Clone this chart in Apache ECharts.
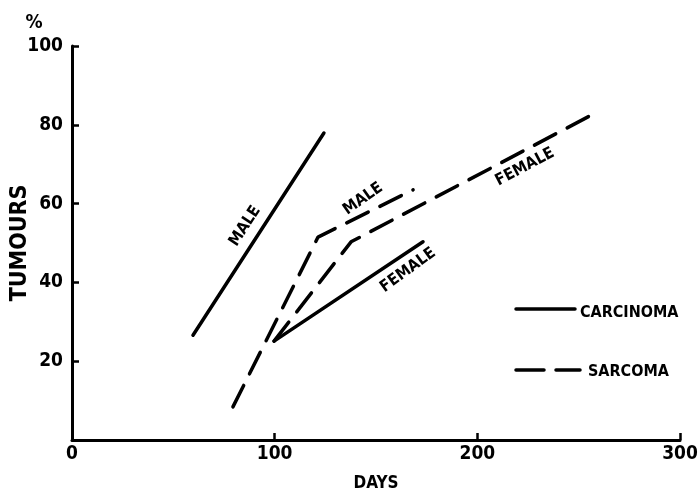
<!DOCTYPE html>
<html><head><meta charset="utf-8">
<script src="https://cdn.jsdelivr.net/npm/echarts@6/dist/echarts.min.js"></script>
<style>html,body{margin:0;padding:0;background:#fff}#c{width:698px;height:491px}</style>
</head><body><div id="c"></div>
<script>
// ---- data ----
const xTicks = [0, 100, 200, 300];
const yTicks = [0, 20, 40, 60, 80, 100];
const carcinomaMale   = [[59.7, 26.6], [124.3, 77.9]];
const carcinomaFemale = [[99.7, 25.1], [173.2, 50.3]];
const sarcomaMale     = [[79.4, 8.4], [121.4, 51.5], [168.3, 63.5]];
const sarcomaFemale   = [[99.7, 25.1], [137.7, 50.3], [259.0, 83.2]];
const curveLabelText  = ['MALE', 'MALE', 'FEMALE', 'FEMALE'];
const curveLabelPos   = [[85.4, 54.3], [143.6, 61.2], [165.8, 43.1], [223.5, 69.3]];
const curveLabelAngle = [57, 35, 36, 28];
const legendNames = ['CARCINOMA', 'SARCOMA'];

const FONT = "'DejaVu Sans Condensed','Liberation Sans Narrow',sans-serif";
const INK = '#000';

const chart = echarts.init(document.getElementById('c'), null, {renderer: 'canvas'});
const solid = {color: INK, width: 3.5, type: 'solid', cap: 'round'};
const dashed = {color: INK, width: 3.5, type: [24, 13], cap: 'round'};
function ser(name, data, ls) {
  return {name, type: 'line', data, symbol: 'none', lineStyle: ls, silent: true, animation: false, z: 3};
}
chart.setOption({
  backgroundColor: '#fff',
  animation: false,
  grid: {left: 72, right: 18, top: 46, bottom: 51, containLabel: false, outerBoundsMode: 'none'},
  xAxis: {
    type: 'value', min: xTicks[0], max: xTicks[xTicks.length - 1], interval: 100,
    name: 'DAYS', nameLocation: 'middle', nameGap: 35, nameMoveOverlap: false,
    nameTextStyle: {fontFamily: FONT, fontWeight: 'bold', fontSize: 17, color: INK},
    axisLine: {show: true, lineStyle: {color: INK, width: 3}},
    axisTick: {show: true, inside: true, length: 7, lineStyle: {color: INK, width: 2.5}},
    axisLabel: {margin: 5, fontFamily: FONT, fontWeight: 'bold', fontSize: 19, color: INK},
    splitLine: {show: false}
  },
  yAxis: {
    type: 'value', min: yTicks[0], max: yTicks[yTicks.length - 1], interval: 20,
    name: 'TUMOURS', nameLocation: 'middle', nameGap: 40, nameRotate: 90, nameMoveOverlap: false,
    nameTextStyle: {fontFamily: FONT, fontWeight: 'bold', fontSize: 23, color: INK},
    axisLine: {show: true, lineStyle: {color: INK, width: 3}},
    axisTick: {show: true, inside: true, length: 7, lineStyle: {color: INK, width: 2.5}},
    axisLabel: {margin: 9, fontFamily: FONT, fontWeight: 'bold', fontSize: 19, color: INK,
      formatter: v => (v === 0 ? '' : String(v))},
    splitLine: {show: false}
  },
  series: [
    ser('CARCINOMA', carcinomaMale, solid),
    ser('CARCINOMA', carcinomaFemale, solid),
    ser('SARCOMA', sarcomaMale, dashed),
    ser('SARCOMA', sarcomaFemale, dashed)
  ]
});

const g = [];
curveLabelText.forEach((t, i) => {
  const p = chart.convertToPixel({gridIndex: 0}, curveLabelPos[i]);
  g.push({type: 'text', x: p[0], y: p[1], rotation: curveLabelAngle[i] * Math.PI / 180, z: 10,
    style: {text: t, fill: INK, font: `bold 16px ${FONT}`, textAlign: 'center', textVerticalAlign: 'middle'}});
});
// "%" unit label
g.push({type: 'text', x: 34, y: 23, z: 10,
  style: {text: '%', fill: INK, font: `bold 19px ${FONT}`, textAlign: 'center', textVerticalAlign: 'middle'}});
// legend
g.push({type: 'line', shape: {x1: 516, y1: 309, x2: 575, y2: 309}, z: 10,
  style: {stroke: INK, lineWidth: 3.5, lineCap: 'round'}});
g.push({type: 'text', x: 580, y: 313, z: 10,
  style: {text: legendNames[0], fill: INK, font: `bold 16px ${FONT}`, textAlign: 'left', textVerticalAlign: 'middle'}});
g.push({type: 'line', shape: {x1: 516, y1: 370, x2: 580, y2: 370}, z: 10,
  style: {stroke: INK, lineWidth: 3.5, lineCap: 'round', lineDash: [28, 12]}});
g.push({type: 'text', x: 588, y: 372, z: 10,
  style: {text: legendNames[1], fill: INK, font: `bold 16px ${FONT}`, textAlign: 'left', textVerticalAlign: 'middle'}});
chart.setOption({graphic: g});
</script></body></html>
